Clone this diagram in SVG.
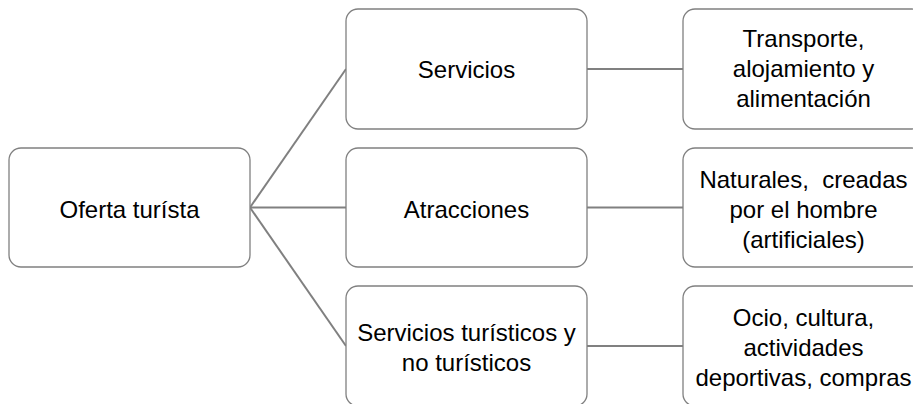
<svg xmlns="http://www.w3.org/2000/svg" width="913" height="404" viewBox="0 0 913 404">
<style>
.box{fill:#ffffff;stroke:#808080;stroke-width:1.3}
.con{stroke:#808080;stroke-width:2;fill:none}
text{font-family:"Liberation Sans",Arial,sans-serif;font-size:24px;fill:#000000;text-anchor:middle}
</style>
<rect width="913" height="404" fill="#ffffff"/>
<g id="connectors">
<line class="con" x1="250" y1="207.5" x2="346" y2="69"/>
<line class="con" x1="250" y1="207.5" x2="346" y2="207.5"/>
<line class="con" x1="250" y1="207.5" x2="346" y2="346"/>
<line class="con" x1="587" y1="69" x2="683" y2="69"/>
<line class="con" x1="587" y1="207.5" x2="683" y2="207.5"/>
<line class="con" x1="587" y1="346" x2="683" y2="346"/>
</g>
<g id="oferta">
<rect class="box" x="9" y="148" width="241" height="119" rx="12"/>
<text x="129.5" y="218">Oferta turísta</text>
</g>
<g id="servicios">
<rect class="box" x="346" y="9" width="241" height="120" rx="12"/>
<text x="466.5" y="78">Servicios</text>
</g>
<g id="atracciones">
<rect class="box" x="346" y="148" width="241" height="119" rx="12"/>
<text x="466.5" y="218">Atracciones</text>
</g>
<g id="servicios-turisticos">
<rect class="box" x="346" y="286" width="241" height="120" rx="12"/>
<text x="466.5" y="341">Servicios turísticos y</text>
<text x="466.5" y="371">no turísticos</text>
</g>
<g id="transporte">
<rect class="box" x="683" y="9" width="241" height="120" rx="12"/>
<text x="803.5" y="47">Transporte,</text>
<text x="803.5" y="77">alojamiento y</text>
<text x="803.5" y="107">alimentación</text>
</g>
<g id="naturales">
<rect class="box" x="683" y="148" width="241" height="119" rx="12"/>
<text x="803.5" y="188" xml:space="preserve">Naturales,  creadas</text>
<text x="803.5" y="218">por el hombre</text>
<text x="803.5" y="248">(artificiales)</text>
</g>
<g id="ocio">
<rect class="box" x="683" y="286" width="241" height="120" rx="12"/>
<text x="803.5" y="326">Ocio, cultura,</text>
<text x="803.5" y="356">actividades</text>
<text x="803.5" y="386">deportivas, compras</text>
</g>
</svg>
